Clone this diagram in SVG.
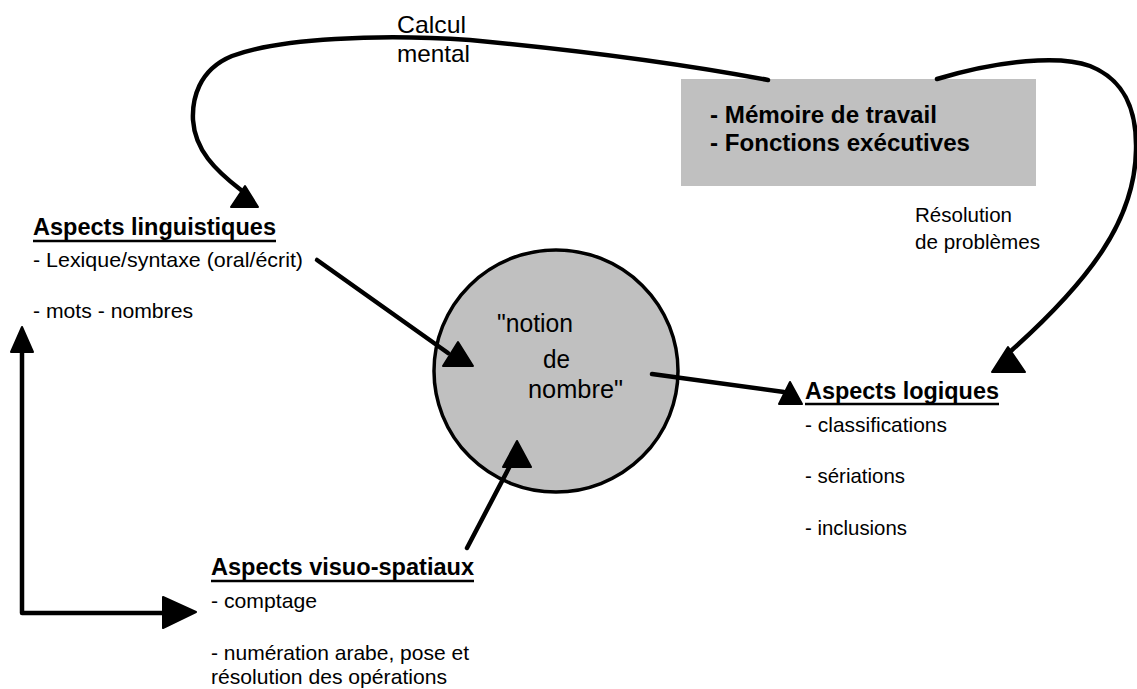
<svg xmlns="http://www.w3.org/2000/svg" width="1137" height="689" viewBox="0 0 1137 689">
<style>
  text { font-family: "Liberation Sans", Arial, sans-serif; fill: #000; }
  .t { font-size: 21px; }
  .lbl { font-size: 24px; }
  .h { font-size: 23.5px; font-weight: bold; }
  .bx { font-size: 24px; font-weight: bold; }
  .c { font-size: 25px; }
  .ul { stroke: #000; stroke-width: 2.5; }
  .ln { fill: none; stroke: #000; stroke-width: 4.5; stroke-linecap: round; stroke-linejoin: round; }
  .ah { fill: #000; stroke: #000; stroke-width: 2; stroke-linejoin: round; }
</style>
<rect width="1137" height="689" fill="#fff"/>

<g id="node-notion">
  <ellipse cx="556" cy="371" rx="122" ry="121" fill="#c0c0c0" stroke="#000" stroke-width="3.5"/>
  <text class="c" x="497" y="332" textLength="76" lengthAdjust="spacingAndGlyphs">"notion</text>
  <text class="c" x="543" y="368" textLength="27" lengthAdjust="spacingAndGlyphs">de</text>
  <text class="c" x="528" y="398" textLength="95" lengthAdjust="spacingAndGlyphs">nombre"</text>
</g>

<g id="node-memoire">
  <rect x="681" y="79" width="355" height="107" fill="#c0c0c0"/>
  <text class="bx" x="710" y="123" textLength="227" lengthAdjust="spacingAndGlyphs">- Mémoire de travail</text>
  <text class="bx" x="710" y="151" textLength="260" lengthAdjust="spacingAndGlyphs">- Fonctions exécutives</text>
</g>

<g id="connectors">
  <path class="ln" d="M 768 80 Q 640 56 470 40 C 380 34 280 38 232 56 C 198 70 192 100 193 120 C 195 150 215 170 241 190"/>
  <polygon class="ah" points="245,186 258,207 231,207"/>
  <path class="ln" d="M 937 79 C 1000 60 1060 55 1090 66 C 1125 80 1137 110 1136 150 C 1135 220 1090 280 1012 350"/>
  <polygon class="ah" points="1008,347 1025,372 992,372"/>
  <path class="ln" d="M 317 260 L 448 353"/>
  <polygon class="ah" points="458,342 473,366 443,366"/>
  <path class="ln" d="M 652 374 L 784 392"/>
  <polygon class="ah" points="790,382 802,404 779,404"/>
  <path class="ln" d="M 467 548 L 512 462"/>
  <polygon class="ah" points="517,441 531,467 503,467"/>
  <path class="ln" d="M 22 345 V 613 H 170" stroke-linecap="square" stroke-width="5"/>
  <polygon class="ah" points="22,327 33,352 11,352"/>
  <polygon class="ah" points="196,612 163,628 163,597"/>
</g>

<g id="label-calcul">
  <text class="lbl" x="397" y="33" textLength="69" lengthAdjust="spacingAndGlyphs">Calcul</text>
  <text class="lbl" x="397" y="62" textLength="73" lengthAdjust="spacingAndGlyphs">mental</text>
</g>

<g id="label-resolution">
  <text class="t" x="915" y="222" textLength="97" lengthAdjust="spacingAndGlyphs">Résolution</text>
  <text class="t" x="915" y="249" textLength="125" lengthAdjust="spacingAndGlyphs">de problèmes</text>
</g>

<g id="node-linguistiques">
  <text class="h" x="33" y="235" textLength="243" lengthAdjust="spacingAndGlyphs">Aspects linguistiques</text>
  <line class="ul" x1="33" y1="241" x2="276" y2="241"/>
  <text class="t" x="33" y="267" textLength="270" lengthAdjust="spacingAndGlyphs">- Lexique/syntaxe (oral/écrit)</text>
  <text class="t" x="33" y="318" textLength="160" lengthAdjust="spacingAndGlyphs">- mots - nombres</text>
</g>

<g id="node-logiques">
  <text class="h" x="805" y="399" textLength="194" lengthAdjust="spacingAndGlyphs">Aspects logiques</text>
  <line class="ul" x1="805" y1="404" x2="999" y2="404"/>
  <text class="t" x="805" y="432" textLength="142" lengthAdjust="spacingAndGlyphs">- classifications</text>
  <text class="t" x="805" y="483" textLength="100" lengthAdjust="spacingAndGlyphs">- sériations</text>
  <text class="t" x="805" y="535" textLength="102" lengthAdjust="spacingAndGlyphs">- inclusions</text>
</g>

<g id="node-visuo">
  <text class="h" x="211" y="575" textLength="263" lengthAdjust="spacingAndGlyphs">Aspects visuo-spatiaux</text>
  <line class="ul" x1="211" y1="581" x2="474" y2="581"/>
  <text class="t" x="211" y="608" textLength="106" lengthAdjust="spacingAndGlyphs">- comptage</text>
  <text class="t" x="211" y="660" textLength="258" lengthAdjust="spacingAndGlyphs">- numération arabe, pose et</text>
  <text class="t" x="211" y="684" textLength="236" lengthAdjust="spacingAndGlyphs">résolution des opérations</text>
</g>
</svg>
